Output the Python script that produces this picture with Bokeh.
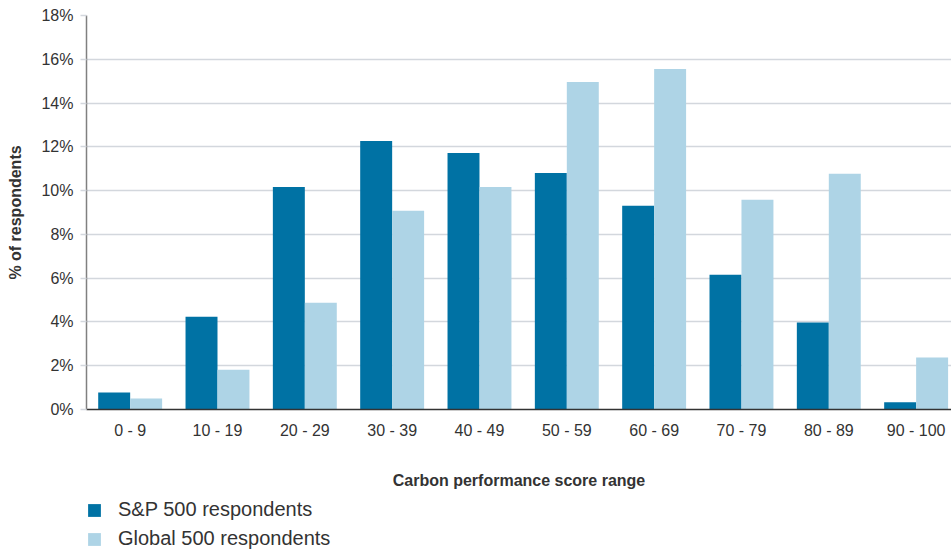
from bokeh.plotting import figure
from bokeh.layouts import column
from bokeh.models import Range1d, FixedTicker, Legend, LegendItem
from bokeh.embed import file_html
from bokeh.resources import INLINE

categories = ["0 - 9", "10 - 19", "20 - 29", "30 - 39", "40 - 49",
              "50 - 59", "60 - 69", "70 - 79", "80 - 89", "90 - 100"]
sp500 = [0.78, 4.24, 10.17, 12.27, 11.72, 10.81, 9.31, 6.16, 3.97, 0.33]
global500 = [0.50, 1.82, 4.88, 9.08, 10.17, 14.96, 15.56, 9.58, 10.77, 2.37]
y_ticks = [0, 2, 4, 6, 8, 10, 12, 14, 16, 18]
series_names = ["S&P 500 respondents", "Global 500 respondents"]

DARK = "#0072a4"
LIGHT = "#aed4e6"
TEXT = "#333333"
GRID = "#d3d7dd"
FONT = "Liberation Sans"

idx = list(range(len(categories)))
bw = 0.366

p = figure(width=951, height=498, output_backend="svg", toolbar_location=None,
           x_range=Range1d(-0.5, 9.405), y_range=Range1d(0, 18),
           min_border_left=86, min_border_right=0, min_border_top=15,
           min_border_bottom=89)
p.outline_line_color = None
p.background_fill_color = "white"

r1 = p.vbar(x=[i - bw / 2 for i in idx], top=sp500, width=bw, color=DARK, line_color=None)
r2 = p.vbar(x=[i + bw / 2 for i in idx], top=global500, width=bw, color=LIGHT, line_color=None)

# x axis
p.xaxis.ticker = FixedTicker(ticks=idx)
p.xaxis.major_label_overrides = {i: c for i, c in enumerate(categories)}
p.xaxis.major_tick_line_color = None
p.xaxis.minor_tick_line_color = None
p.xaxis.major_tick_out = 0
p.xaxis.major_label_standoff = 12
p.xaxis.major_label_text_font = FONT
p.xaxis.major_label_text_font_size = "16px"
p.xaxis.major_label_text_color = TEXT
p.xaxis.axis_line_color = "#333333"
p.xaxis.axis_line_width = 1.5
p.xaxis.axis_label = "Carbon performance score range"
p.xaxis.axis_label_text_font = FONT
p.xaxis.axis_label_text_font_style = "bold"
p.xaxis.axis_label_text_font_size = "16px"
p.xaxis.axis_label_text_color = TEXT
p.xaxis.axis_label_standoff = 30

# y axis
p.yaxis.ticker = FixedTicker(ticks=y_ticks)
p.yaxis.major_label_overrides = {t: f"{t}%" for t in y_ticks}
p.yaxis.major_tick_out = 6
p.yaxis.major_tick_in = 0
p.yaxis.major_tick_line_color = GRID
p.yaxis.major_tick_line_width = 1.5
p.yaxis.minor_tick_line_color = None
p.yaxis.major_label_standoff = 7
p.yaxis.major_label_text_font = FONT
p.yaxis.major_label_text_font_size = "16px"
p.yaxis.major_label_text_color = TEXT
p.yaxis.axis_line_color = "#808080"
p.yaxis.axis_line_width = 1.5
p.yaxis.axis_label = "% of respondents"
p.yaxis.axis_label_text_font = FONT
p.yaxis.axis_label_text_font_style = "bold"
p.yaxis.axis_label_text_font_size = "16px"
p.yaxis.axis_label_text_color = TEXT
p.yaxis.axis_label_standoff = 14

p.xgrid.grid_line_color = None
p.ygrid.grid_line_color = GRID
p.ygrid.grid_line_width = 1.5

# legend strip below the chart (its frame aligns with the chart's frame)
lg = figure(width=951, height=52, output_backend="svg", toolbar_location=None,
            x_range=Range1d(0, 1), y_range=Range1d(0, 1),
            min_border_left=0, min_border_right=0, min_border_top=0,
            min_border_bottom=0, x_axis_location=None, y_axis_location=None)
lg.outline_line_color = None
lg.xgrid.grid_line_color = None
lg.ygrid.grid_line_color = None
# swatch renderers kept outside the visible range of the strip
d1 = lg.vbar(x=[5], top=[1], width=0.1, color=DARK, line_color=None)
d2 = lg.vbar(x=[5], top=[1], width=0.1, color=LIGHT, line_color=None)

legend = Legend(items=[LegendItem(label=series_names[0], renderers=[d1]),
                       LegendItem(label=series_names[1], renderers=[d2])],
                location=(0, 0), orientation="vertical",
                glyph_width=16, glyph_height=16, label_height=20,
                label_standoff=16, spacing=6, padding=0, margin=0,
                border_line_color=None, background_fill_alpha=0,
                label_text_font=FONT, label_text_font_size="20px",
                label_text_color=TEXT)
lg.add_layout(legend, "center")

layout = column(p, lg, spacing=0)
open("out.html", "w").write(file_html(layout, INLINE))
